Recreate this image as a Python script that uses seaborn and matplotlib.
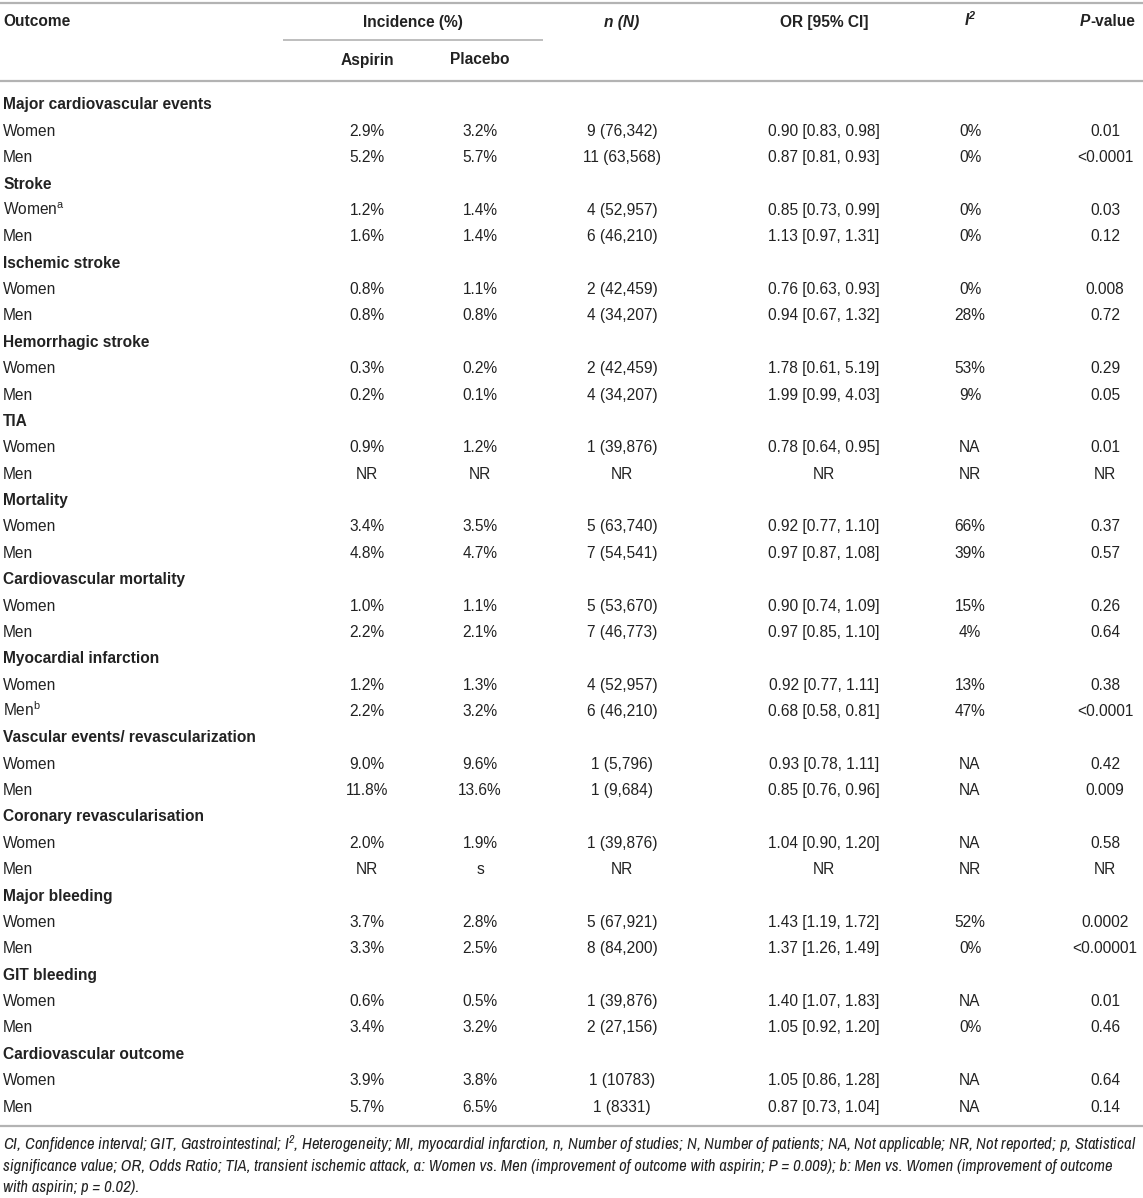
import matplotlib
matplotlib.use("Agg")
import matplotlib.pyplot as plt
import seaborn as sns
from matplotlib import font_manager

# ---------------- data ----------------
groups = ["Major cardiovascular events", "Stroke", "Ischemic stroke", "Hemorrhagic stroke",
          "TIA", "Mortality", "Cardiovascular mortality", "Myocardial infarction",
          "Vascular events/ revascularization", "Coronary revascularisation",
          "Major bleeding", "GIT bleeding", "Cardiovascular outcome"]
sub_labels = ["Women", "Men",
              "Women$^{a}$", "Men",
              "Women", "Men",
              "Women", "Men",
              "Women", "Men",
              "Women", "Men",
              "Women", "Men",
              "Women", "Men$^{b}$",
              "Women", "Men",
              "Women", "Men",
              "Women", "Men",
              "Women", "Men",
              "Women", "Men"]
aspirin = ["2.9%", "5.2%", "1.2%", "1.6%", "0.8%", "0.8%", "0.3%", "0.2%", "0.9%", "NR",
           "3.4%", "4.8%", "1.0%", "2.2%", "1.2%", "2.2%", "9.0%", "11.8%", "2.0%", "NR",
           "3.7%", "3.3%", "0.6%", "3.4%", "3.9%", "5.7%"]
placebo = ["3.2%", "5.7%", "1.4%", "1.4%", "1.1%", "0.8%", "0.2%", "0.1%", "1.2%", "NR",
           "3.5%", "4.7%", "1.1%", "2.1%", "1.3%", "3.2%", "9.6%", "13.6%", "1.9%", "s",
           "2.8%", "2.5%", "0.5%", "3.2%", "3.8%", "6.5%"]
n_studies = ["9 (76,342)", "11 (63,568)", "4 (52,957)", "6 (46,210)", "2 (42,459)", "4 (34,207)",
             "2 (42,459)", "4 (34,207)", "1 (39,876)", "NR", "5 (63,740)", "7 (54,541)",
             "5 (53,670)", "7 (46,773)", "4 (52,957)", "6 (46,210)", "1 (5,796)", "1 (9,684)",
             "1 (39,876)", "NR", "5 (67,921)", "8 (84,200)", "1 (39,876)", "2 (27,156)",
             "1 (10783)", "1 (8331)"]
odds_ratio = ["0.90 [0.83, 0.98]", "0.87 [0.81, 0.93]", "0.85 [0.73, 0.99]", "1.13 [0.97, 1.31]",
              "0.76 [0.63, 0.93]", "0.94 [0.67, 1.32]", "1.78 [0.61, 5.19]", "1.99 [0.99, 4.03]",
              "0.78 [0.64, 0.95]", "NR", "0.92 [0.77, 1.10]", "0.97 [0.87, 1.08]",
              "0.90 [0.74, 1.09]", "0.97 [0.85, 1.10]", "0.92 [0.77, 1.11]", "0.68 [0.58, 0.81]",
              "0.93 [0.78, 1.11]", "0.85 [0.76, 0.96]", "1.04 [0.90, 1.20]", "NR",
              "1.43 [1.19, 1.72]", "1.37 [1.26, 1.49]", "1.40 [1.07, 1.83]", "1.05 [0.92, 1.20]",
              "1.05 [0.86, 1.28]", "0.87 [0.73, 1.04]"]
i_squared = ["0%", "0%", "0%", "0%", "0%", "28%", "53%", "9%", "NA", "NR", "66%", "39%",
             "15%", "4%", "13%", "47%", "NA", "NA", "NA", "NR", "52%", "0%", "NA", "0%",
             "NA", "NA"]
p_values = ["0.01", "<0.0001", "0.03", "0.12", "0.008", "0.72", "0.29", "0.05", "0.01", "NR",
            "0.37", "0.57", "0.26", "0.64", "0.38", "<0.0001", "0.42", "0.009", "0.58", "NR",
            "0.0002", "<0.00001", "0.01", "0.46", "0.64", "0.14"]
footnote_lines = [
    "CI, Confidence interval; GIT, Gastrointestinal; I$^{2}$, Heterogeneity; MI, myocardial infarction, n, Number of studies; N, Number of patients; NA, Not applicable; NR, Not reported; p, Statistical",
    "significance value; OR, Odds Ratio; TIA, transient ischemic attack, a: Women vs. Men (improvement of outcome with aspirin; P = 0.009); b: Men vs. Women (improvement of outcome",
    "with aspirin; p = 0.02).",
]

# ---------------- style ----------------
sns.set_theme(style="white")
names = {f.name for f in font_manager.fontManager.ttflist}
base = "Liberation Sans" if "Liberation Sans" in names else "DejaVu Sans"
narrow_cands = sorted(n for n in names if ("Narrow" in n or "Condensed" in n) and "Mono" not in n)
if "Liberation Sans Narrow" in names:
    narrow = "Liberation Sans Narrow"
elif narrow_cands:
    narrow = narrow_cands[0]
elif "Roboto" in names:
    narrow = "Roboto"
else:
    narrow = base
plt.rcParams["font.family"] = [base, "DejaVu Sans"]
plt.rcParams["mathtext.default"] = "regular"

TXT = "#222222"
LINE = "#b3b3b3"
FS = 11.2
BL = 5.5  # baseline offset below the visual row centre (px)

W, H = 1143, 1198
fig = plt.figure(figsize=(W / 100, H / 100), dpi=100)
ax = fig.add_axes([0, 0, 1, 1])
ax.set_xlim(0, W)
ax.set_ylim(H, 0)
ax.axis("off")

# column layout
x_out = 3
cols = [367, 480, 622, 824, 970, 1105]
y_h1, y_h2 = 21, 59
row0, dy = 104, 26.37

# horizontal rules
for y, x0, x1, lw in [(3, 0, W, 1.6), (40, 283, 543, 1.2), (81, 0, W, 1.6), (1126, 0, W, 1.6)]:
    ax.plot([x0, x1], [y, y], color=LINE, lw=lw, solid_capstyle="butt")

hb = dict(fontsize=FS, fontweight="bold", color=TXT, va="baseline")
ax.text(x_out, y_h1 + BL, "Outcome", ha="left", **hb)
ax.text(413, y_h1 + BL, "Incidence (%)", ha="center", **hb)
ax.text(cols[0], y_h2 + BL, "Aspirin", ha="center", **hb)
ax.text(cols[1], y_h2 + BL, "Placebo", ha="center", **hb)
ax.text(cols[2], y_h1 + BL, "n (N)", ha="center", style="italic", **hb)
ax.text(cols[3], y_h1 + BL, "OR [95% CI]", ha="center", **hb)
ax.text(cols[4], y_h1 + BL, "$I^{2}$", ha="center", style="italic", **hb)
ax.text(1090, y_h1 + BL, "P", ha="right", style="italic", **hb)
ax.text(1090, y_h1 + BL, "-value", ha="left", **hb)

# body
row = 0
for g, grp in enumerate(groups):
    y = row0 + row * dy + BL
    ax.text(x_out, y, grp, ha="left", fontsize=FS, fontweight="bold", color=TXT, va="baseline")
    row += 1
    for k in range(2):
        i = 2 * g + k
        y = row0 + row * dy + BL
        ax.text(x_out, y, sub_labels[i], ha="left", fontsize=FS, color=TXT, va="baseline")
        for x, col in zip(cols, [aspirin, placebo, n_studies, odds_ratio, i_squared, p_values]):
            ax.text(x, y, col[i], ha="center", fontsize=FS, color=TXT, va="baseline")
        row += 1

# footnote: narrow italic, sized so that the longest line spans the table width
fy = [1144, 1165, 1186]
fam = [narrow, "DejaVu Sans"]
fig.canvas.draw()
renderer = fig.canvas.get_renderer()
probe = ax.text(0, 0, footnote_lines[0], fontsize=FS, style="italic", family=fam)
wpx = probe.get_window_extent(renderer).width
probe.remove()
ffs = min(FS * 1.12, FS * (W - 10) / wpx)
for y, line in zip(fy, footnote_lines):
    ax.text(x_out, y + BL * ffs / FS, line, ha="left", va="baseline", fontsize=ffs, style="italic",
            color=TXT, family=fam)

fig.savefig("out.png", dpi=100)
